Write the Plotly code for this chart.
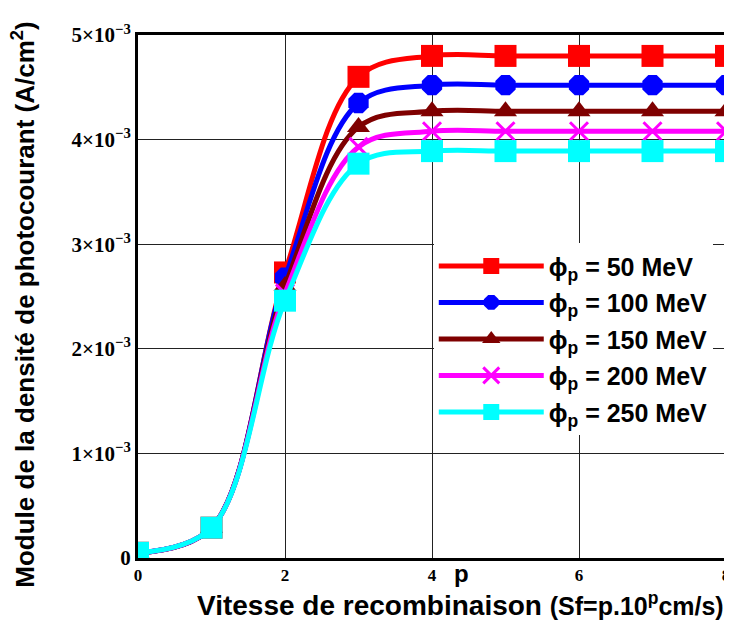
import plotly.graph_objects as go

p = [0, 1, 2, 3, 4, 5, 6, 7, 8]
j50 = [0.05e-3, 0.29e-3, 2.73e-3, 4.60e-3, 4.80e-3, 4.80e-3, 4.80e-3, 4.80e-3, 4.80e-3]
j100 = [0.05e-3, 0.29e-3, 2.68e-3, 4.35e-3, 4.52e-3, 4.52e-3, 4.52e-3, 4.52e-3, 4.52e-3]
j150 = [0.05e-3, 0.29e-3, 2.60e-3, 4.12e-3, 4.27e-3, 4.27e-3, 4.27e-3, 4.27e-3, 4.27e-3]
j200 = [0.05e-3, 0.29e-3, 2.53e-3, 3.93e-3, 4.08e-3, 4.08e-3, 4.08e-3, 4.08e-3, 4.08e-3]
j250 = [0.05e-3, 0.29e-3, 2.46e-3, 3.77e-3, 3.89e-3, 3.89e-3, 3.89e-3, 3.89e-3, 3.89e-3]

names = ["ϕ<sub>p</sub> = 50 MeV", "ϕ<sub>p</sub> = 100 MeV", "ϕ<sub>p</sub> = 150 MeV",
         "ϕ<sub>p</sub> = 200 MeV", "ϕ<sub>p</sub> = 250 MeV"]
series = [j50, j100, j150, j200, j250]
colors = ["#ff0000", "#0000ff", "#7f0000", "#ff00ff", "#00ffff"]
symbols = ["square", "octagon", "triangle-up", "x-thin-open", "square"]
sizes = [22, 22, 20, 18, 22]

ytickvals = [0, 1e-3, 2e-3, 3e-3, 4e-3, 5e-3]
yticktext = ["0", "1×10<sup>−3</sup>", "2×10<sup>−3</sup>", "3×10<sup>−3</sup>",
             "4×10<sup>−3</sup>", "5×10<sup>−3</sup>"]
xtickvals = [0, 2, 4, 6, 8]

fig = go.Figure()
for i, (name, ys) in enumerate(zip(names, series)):
    fig.add_trace(go.Scatter(
        x=p, y=ys, name=name, mode="lines+markers",
        line=dict(color=colors[i], width=5, shape="spline", smoothing=1.0),
        marker=dict(symbol=symbols[i], size=sizes[i], color=colors[i],
                    line=dict(color=colors[i], width=3 if symbols[i] == "x-thin-open" else 0)),
        legendgroup=str(i),
    ))

fig.update_layout(
    width=732, height=626,
    margin=dict(l=130, r=14, t=27, b=76),
    plot_bgcolor="white", paper_bgcolor="white",
    showlegend=True,
    legend=dict(x=0.503, y=0.602, xanchor="left", yanchor="top",
                bgcolor="white", borderwidth=0,
                font=dict(family="Arial, Liberation Sans", size=25, color="black", weight="bold"),
                tracegroupgap=1, itemwidth=105),
    xaxis=dict(range=[0, 8], tickvals=xtickvals, ticktext=[str(v) for v in xtickvals],
               automargin=False,
               showgrid=True, gridcolor="#222222", gridwidth=1,
               showline=True, linecolor="black", linewidth=3, mirror=True,
               zeroline=False, ticks="",
               tickfont=dict(family="Liberation Serif", size=17, color="black", weight="bold")),
    yaxis=dict(range=[0, 5e-3], tickvals=ytickvals, ticktext=yticktext,
               automargin=False,
               showgrid=True, gridcolor="#222222", gridwidth=1,
               showline=True, linecolor="black", linewidth=3, mirror=True,
               zeroline=False, ticks="",
               tickfont=dict(family="Liberation Serif", size=21, color="black", weight="bold")),
    annotations=[
        dict(x=-0.195, y=0.485, xref="paper", yref="paper", xanchor="center", yanchor="middle",
             text="<b>Module de la densité de photocourant (A/cm<sup>2</sup>)</b>",
             textangle=-90, showarrow=False,
             font=dict(family="Arial, Liberation Sans", size=26, color="black")),
        dict(x=4.4, y=0, xref="x", yref="paper", xanchor="center", yanchor="middle",
             text="<b>p</b>", showarrow=False, yshift=-15,
             font=dict(family="Arial", size=24, color="black")),
        dict(x=0.548, y=0, xref="paper", yref="paper", xanchor="center", yanchor="middle",
             text="<b>Vitesse de recombinaison <span style='font-size:25px'>(Sf=p.10<sup>p</sup>cm/s)</span></b>",
             showarrow=False, yshift=-46,
             font=dict(family="Arial, Liberation Sans", size=28, color="black")),
    ],
)

fig.write_html("out.html")
